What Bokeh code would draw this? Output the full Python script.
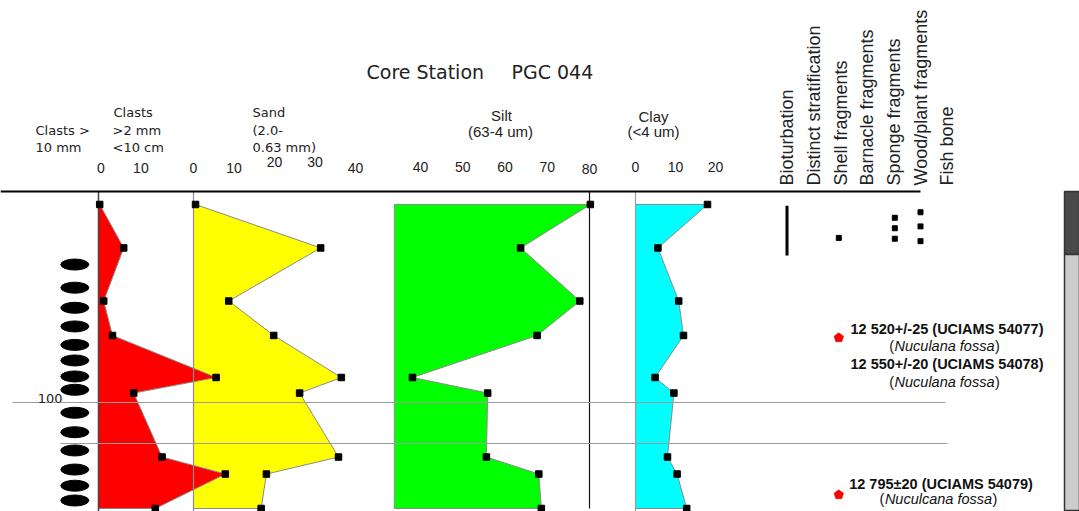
import math
from bokeh.plotting import figure
from bokeh.models import Range1d
from bokeh.core.properties import value
from bokeh.embed import file_html
from bokeh.resources import INLINE

# ---------------- data ----------------
depth = [3.4, 24.6, 50.5, 67.3, 87.8, 95.4, 126.6, 134.9, 151.7]       # cm
clasts = [0.3, 6.3, 1.3, 3.5, 29.4, 8.8, 15.9, 31.7, 14.2]            # clasts >2 mm <10 cm (%)
sand = [0.5, 31.4, 8.7, 19.8, 36.5, 26.2, 35.8, 18.0, 16.7]           # %
silt = [80.2, 63.7, 77.7, 67.6, 38.1, 55.9, 55.6, 68.0, 68.6]         # %
clay = [18.0, 5.6, 10.8, 12.0, 4.9, 9.6, 8.0, 10.4, 12.8]             # %
silt_base = 33.8

big_clast_depths = [32.7, 44.0, 53.8, 62.9, 71.9, 79.5, 87.3, 93.8,
                    105.0, 114.5, 123.4, 132.7, 140.6, 147.8]

clast_ticks = [0, 10]
sand_ticks = [0, 10, 20, 30, 40]
silt_ticks = [40, 50, 60, 70, 80]
clay_ticks = [0, 10, 20]
depth_ticks = [100]
depth_lines = [100, 120]

feature_names = ["Bioturbation", "Distinct stratification", "Shell fragments",
                 "Barnacle fragments", "Sponge fragments", "Wood/plant fragments",
                 "Fish bone"]
bioturbation = [(4.0, 28.3)]
shell_depths = [19.7]
sponge_depths = [9.9, 15.0, 20.1]
wood_depths = [7.2, 14.1, 21.3]

date_depths = [68.4, 145.0]
date_labels = ["12 520+/-25 (UCIAMS 54077)", "12 550+/-20 (UCIAMS 54078)",
               "12 795\u00b120 (UCIAMS 54079)"]
date_species = ["Nuculana fossa", "Nuculana fossa", "Nuculcana fossa"]

# ---------------- layout helpers (reference-pixel layout) ----------------
W_REF, H_REF = 1079, 511
DEPTH_Y0, DEPTH_PX = 197.0, 2.05   # depth 0 at y=197, 2.05 px per cm


def prange(px_a, v_a, px_b, v_b):
    b = (px_b - px_a) / (v_b - v_a)
    a = px_a - b * v_a
    return Range1d(start=(0 - a) / b, end=(W_REF - a) / b)


p = figure(width=1079, height=511, output_backend="svg", toolbar_location=None,
           x_range=Range1d(0, W_REF),
           y_range=Range1d((H_REF - DEPTH_Y0) / DEPTH_PX, (0 - DEPTH_Y0) / DEPTH_PX),
           x_axis_location=None, y_axis_location=None, min_border=0)
p.outline_line_color = None
p.xgrid.visible = False
p.ygrid.visible = False
p.background_fill_color = "white"
p.border_fill_color = "white"

p.extra_y_ranges = {"py": Range1d(H_REF, 0)}
p.extra_x_ranges = {
    "clasts": prange(98, 0, 138, 10),
    "sand": prange(193, 0, 355, 40),
    "silt": prange(420, 40, 589, 80),
    "clay": prange(635, 0, 675, 10),
}

SANS = value("Liberation Sans")
GOTH = value("DejaVu Sans")
TXT = "#222222"

# ---------------- filled profiles ----------------
def profile(vals, base, rng, color):
    xs = [base] + vals + [base]
    ys = [depth[0]] + depth + [depth[-1]]
    p.patch(xs, ys, x_range_name=rng, fill_color=color, line_color="#8a8a8a",
            line_width=1)

profile(sand, 0, "sand", "#ffff00")
profile(clasts, 0, "clasts", "#ff0000")
profile(silt, silt_base, "silt", "#00ff00")
profile(clay, 0, "clay", "#00ffff")

# panel boundary lines
p.segment([0], [191], [0], [511], x_range_name="clasts", y_range_name="py",
          line_color="#444444", line_width=1.5)
p.segment([0], [191], [0], [511], x_range_name="sand", y_range_name="py",
          line_color="#8c8c8c", line_width=1.2)
p.segment([80], [191], [80], [508], x_range_name="silt", y_range_name="py",
          line_color="#111111", line_width=1.2)
p.segment([0], [191], [0], [511], x_range_name="clay", y_range_name="py",
          line_color="#9a9a9a", line_width=1.2)

# top rule
p.segment([0], [191], [920], [191], y_range_name="py", line_color="black", line_width=2)

# depth reference lines
p.segment([12, 60], depth_lines, [945, 947], depth_lines, line_color="#9c9c9c", line_width=1)
p.text([62], depth_ticks, text=[str(t) for t in depth_ticks], text_align="right",
       text_baseline="bottom", text_font=GOTH, text_font_size="13px", text_color=TXT)

# data markers
for vals, rng in ((clasts, "clasts"), (sand, "sand"), (silt, "silt"), (clay, "clay")):
    p.scatter(vals, depth, x_range_name=rng, marker="square", size=6.5, color="black")

# clasts > 10 mm
p.ellipse(x=[74.3] * len(big_clast_depths), y=big_clast_depths, width=28,
          height=11 / DEPTH_PX, color="black")

# ---------------- tick labels ----------------
def ticklabels(ticks, rng, ys, dx=0.0):
    p.text([t + dx for t in ticks], ys, text=[str(t) for t in ticks], x_range_name=rng,
           y_range_name="py", text_align="center", text_baseline="middle",
           text_font=SANS, text_font_size="14px", text_color=TXT)

ticklabels(clast_ticks, "clasts", [167.7, 167.7], dx=0.6)
ticklabels(sand_ticks, "sand", [167.7, 167.7, 161, 161, 167.7])
ticklabels(silt_ticks, "silt", [166.7, 166.7, 166.7, 166.7, 168])
ticklabels(clay_ticks, "clay", [166.7, 166.7, 166.7])

# ---------------- headers ----------------
def lbl(x, y, t, font=GOTH, size="13px", align="left", style="normal", color=TXT):
    p.text([x], [y], text=[t], y_range_name="py", text_align=align,
           text_baseline="middle", text_font=font, text_font_size=size,
           text_font_style=style, text_color=color)

lbl(366, 71, "Core Station", font=GOTH, size="19px")
lbl(511, 71, "PGC 044", font=GOTH, size="19px")

lbl(35, 130, "Clasts >")
lbl(35, 146.7, "10 mm")
lbl(113, 111.7, "Clasts")
lbl(112, 130, ">2 mm")
lbl(112, 146.7, "<10 cm")
lbl(252, 111.7, "Sand")
lbl(252, 130, "(2.0-")
lbl(252, 146.7, "0.63 mm)")
lbl(501, 115, "Silt", font=SANS, size="15px", align="center")
lbl(500, 131, "(63-4 um)", font=SANS, size="15px", align="center")
lbl(653, 116, "Clay", font=SANS, size="15px", align="center")
lbl(653, 131, "(<4 um)", font=SANS, size="15px", align="center")

# rotated feature headers
col_x = [786.5, 813, 840, 866.5, 893, 920, 946.5]
p.text(col_x, [185] * len(col_x), text=feature_names, y_range_name="py",
       angle=math.pi / 2, text_align="left", text_baseline="middle",
       text_font=SANS, text_font_size="18px", text_color=TXT)

# ---------------- feature marks ----------------
for top, bot in bioturbation:
    p.segment([col_x[0]], [top], [col_x[0]], [bot], line_color="black", line_width=3)
p.scatter([838.3] * len(shell_depths), shell_depths, marker="square", size=5, color="black")
p.scatter([894.3] * len(sponge_depths), sponge_depths, marker="square", size=5, color="black")
p.scatter([920] * len(wood_depths), wood_depths, marker="square", size=5, color="black")

# radiocarbon sample markers (pentagons)
r = 5.0
pxs, pys = [], []
for d in date_depths:
    angs = [2 * math.pi * k / 5 for k in range(5)]
    pxs.append([838.3 + r * math.sin(a) for a in angs])
    pys.append([d - r * math.cos(a) / DEPTH_PX for a in angs])
p.patches(pxs, pys, fill_color="#ff0000", line_color="#cc0000", line_width=0.5)

BOLD_SIZE = "14.5px"
date_rows = [(946.5, 328, 944, 345), (946.5, 363, 944, 381), (940.5, 483.5, 938, 498.5)]
for (bx, by, sx, sy), lab, sp in zip(date_rows, date_labels, date_species):
    lbl(bx, by, lab, font=SANS, size=BOLD_SIZE, align="center", style="bold", color="#111111")
    half = 0.5 * 6.9 * 14.5 * (len(sp) / 14.0)
    lbl(sx, sy, sp, font=SANS, size=BOLD_SIZE, align="center", style="italic", color="#111111")
    lbl(sx - half - 0.5, sy, "(", font=SANS, size=BOLD_SIZE, align="right", color="#111111")
    lbl(sx + half + 0.5, sy, ")", font=SANS, size=BOLD_SIZE, align="left", color="#111111")

# right-hand column block
p.quad(left=[1064], right=[1079], top=[191], bottom=[254], y_range_name="py",
       fill_color="#4a4a4a", line_color="#333333", line_width=1.5)
p.quad(left=[1064], right=[1079], top=[254], bottom=[510], y_range_name="py",
       fill_color="#cccccc", line_color="#333333", line_width=1.5)

open("out.html", "w").write(file_html(p, INLINE))
